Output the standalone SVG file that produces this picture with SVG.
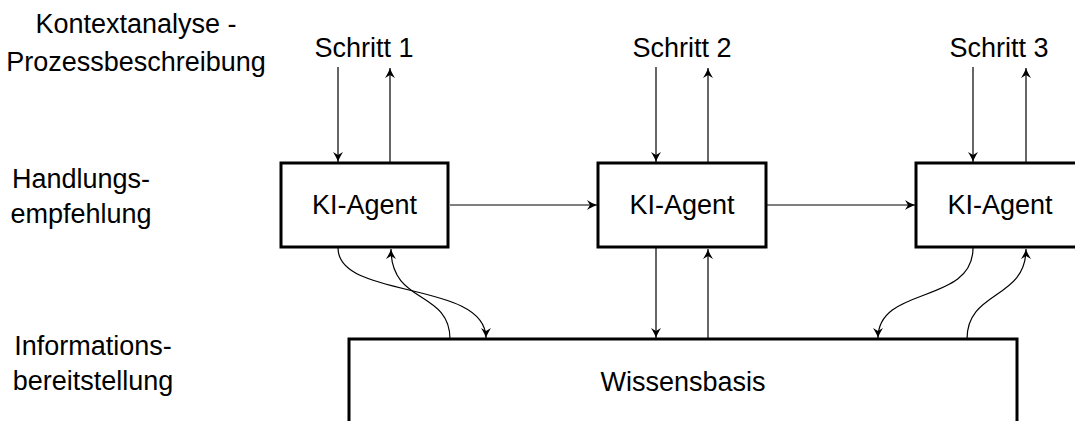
<svg xmlns="http://www.w3.org/2000/svg" width="1075" height="421" viewBox="0 0 1075 421">
<style>
  text { font-family: "Liberation Sans", Arial, sans-serif; font-size: 27px; fill: #000; text-anchor: middle; }
  .box { fill: #fff; stroke: #000; stroke-width: 3; }
  .conn { fill: none; stroke: #000; stroke-width: 1.2; marker-end: url(#tip); }
</style>
<defs>
  <marker id="tip" viewBox="-11 -6 13 12" markerWidth="13" markerHeight="12" refX="0" refY="0" orient="auto" markerUnits="userSpaceOnUse">
    <path d="M0,0 C-3,-1 -7,-3 -10,-5 L-7,0 L-10,5 C-7,3 -3,1 0,0 Z" fill="#000"/>
  </marker>
</defs>
<rect width="1075" height="421" fill="#fff"/>

<g id="label-kontext">
  <text x="136" y="33">Kontextanalyse -</text>
  <text x="136" y="71">Prozessbeschreibung</text>
</g>
<g id="label-handlung">
  <text x="81" y="188">Handlungs-</text>
  <text x="81" y="223">empfehlung</text>
</g>
<g id="label-info">
  <text x="93" y="355">Informations-</text>
  <text x="93" y="390">bereitstellung</text>
</g>

<g id="schritt1"><text x="364" y="57">Schritt 1</text></g>
<g id="schritt2"><text x="682" y="57">Schritt 2</text></g>
<g id="schritt3"><text x="999" y="57">Schritt 3</text></g>

<g id="connectors">
  <path class="conn" d="M338,67 V162"/>
  <path class="conn" d="M390,163 V68"/>
  <path class="conn" d="M656,67 V162"/>
  <path class="conn" d="M708,163 V68"/>
  <path class="conn" d="M973,67 V162"/>
  <path class="conn" d="M1026,163 V68"/>
  <path class="conn" d="M450,205 H597"/>
  <path class="conn" d="M767,205 H915"/>
  <path class="conn" d="M656,248 V338"/>
  <path class="conn" d="M708,339 V249"/>
  <path class="conn" d="M338,248 C338,300 486,280 486,338"/>
  <path class="conn" d="M450,339 C450,290 391,305 391,249"/>
  <path class="conn" d="M973,248 C973,305 878,285 878,338"/>
  <path class="conn" d="M967,339 C967,290 1026,300 1026,249"/>
</g>

<g id="agent1">
  <rect class="box" x="281" y="163" width="167" height="84"/>
  <text x="364.5" y="214">KI-Agent</text>
</g>
<g id="agent2">
  <rect class="box" x="598" y="163" width="168" height="84"/>
  <text x="682" y="214">KI-Agent</text>
</g>
<g id="agent3">
  <rect class="box" x="916" y="163" width="168" height="84"/>
  <text x="1000" y="214">KI-Agent</text>
</g>
<g id="wissensbasis">
  <rect class="box" x="349" y="339" width="668" height="100"/>
  <text x="683" y="391">Wissensbasis</text>
</g>
</svg>
